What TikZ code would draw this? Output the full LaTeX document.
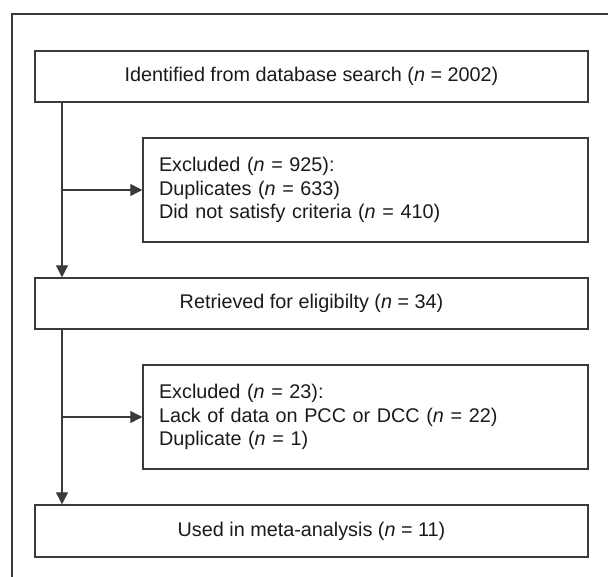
\documentclass[tikz,border=0pt]{standalone}
\usepackage{fontspec}
\setmainfont{Liberation Sans}
\usetikzlibrary{arrows.meta}
\definecolor{linecol}{HTML}{3A3A3A}
\definecolor{txtcol}{HTML}{1A1A1A}
\begin{document}
\begin{tikzpicture}[x=1pt,y=-1pt,
  box/.style={draw=linecol,line width=1.4pt,minimum width=553pt,minimum height=51pt,inner sep=0pt,text=txtcol,font=\fontsize{19.8}{23.5}\selectfont},
  exbox/.style={draw=linecol,line width=1.4pt,minimum width=445pt,minimum height=104pt,inner xsep=16pt,inner ysep=0pt,text width=413pt,align=left,text=txtcol,font=\fontsize{19.8}{23.5}\selectfont},
  conn/.style={draw=linecol,line width=1.2pt},
  arr/.style={conn,-{Triangle[length=12pt,width=12pt]}}]
\useasboundingbox (0,0) rectangle (608,577);
\draw[draw=linecol,line width=1.4pt] (12,577) -- (12,14) -- (608,14);
\node[box] (b1) at (311.5,76.5) {Identified from database search (\textit{n} = 2002)};
\node[exbox] (b2) at (365.5,190) {Excluded (\textit{n} = 925):\\Duplicates (\textit{n} = 633)\\Did not satisfy criteria (\textit{n} = 410)};
\node[box] (b3) at (311.5,303.5) {Retrieved for eligibilty (\textit{n} = 34)};
\node[exbox] (b4) at (365.5,417) {Excluded (\textit{n} = 23):\\Lack of data on PCC or DCC (\textit{n} = 22)\\Duplicate (\textit{n} = 1)};
\node[box,minimum height=52pt] (b5) at (311.5,531) {Used in meta-analysis (\textit{n} = 11)};
\coordinate (j1) at (62,190);
\coordinate (j2) at (62,417);
\draw[arr] (b1.south -| j1) -- (b3.north -| j1);
\draw[arr] (j1) -- (b2.west);
\draw[arr] (b3.south -| j2) -- (b5.north -| j2);
\draw[arr] (j2) -- (b4.west);
\end{tikzpicture}
\end{document}
